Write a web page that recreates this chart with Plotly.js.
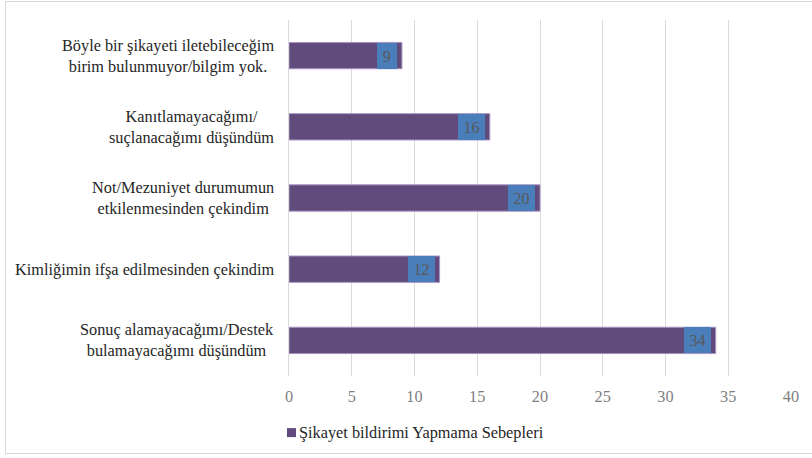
<!DOCTYPE html>
<html><head><meta charset="utf-8">
<script src="https://cdn.plot.ly/plotly-3.0.1.min.js"></script>
<style>
html,body{margin:0;padding:0;background:#fff;}
#wrap{position:relative;width:812px;height:458px;overflow:hidden;}
#frame{position:absolute;left:5px;top:1px;width:830px;height:453px;border:1px solid #d9d9d9;box-sizing:border-box;pointer-events:none;}
#chart{position:absolute;left:0;top:0;width:812px;height:458px;}
</style></head>
<body><div id="wrap"><div id="chart"></div><div id="frame"></div></div>
<script>
const categories = [
  "Böyle bir şikayeti iletebileceğim<br>birim bulunmuyor/bilgim yok.",
  "Kanıtlamayacağımı/<br>suçlanacağımı düşündüm",
  "Not/Mezuniyet durumumun<br>etkilenmesinden çekindim",
  "Kimliğimin ifşa edilmesinden çekindim",
  "Sonuç alamayacağımı/Destek<br>bulamayacağımı düşündüm"
];
const values = [9, 16, 20, 12, 34];
const seriesName = "Şikayet bildirimi Yapmama Sebepleri";
const xTicks = [0, 5, 10, 15, 20, 25, 30, 35, 40];

const FAM = "Times New Roman";
const annotations = [];
categories.forEach((c, i) => {
  annotations.push({
    x: 0, xref: 'paper', y: c, yref: 'y', xanchor: 'right', yanchor: 'middle',
    xshift: -13, text: c, showarrow: false, align: 'center',
    font: {family: FAM, size: 16.3, color: '#262626'}
  });
  const lbl = String(values[i]);
  annotations.push({
    x: values[i], xref: 'x', y: c, yref: 'y', xanchor: 'right', yanchor: 'middle',
    xshift: -5, text: lbl, showarrow: false, bgcolor: '#4a7ebb', borderwidth: 0,
    borderpad: 0, width: lbl.length * 7.6 + 12, height: 26,
    font: {family: FAM, size: 16, color: '#595959'}
  });
});
annotations.push({
  x: 0, xref: 'paper', y: -0.159, yref: 'paper', xanchor: 'left', yanchor: 'middle',
  xshift: 8, text: seriesName, showarrow: false,
  font: {family: FAM, size: 16.3, color: '#262626'}
});

const data = [{
  type: 'bar', orientation: 'h', x: values, y: categories, name: seriesName,
  marker: {color: '#604b7c', line: {color: '#a896c2', width: 1}},
  hoverinfo: 'x+y', showlegend: false
}];

const layout = {
  width: 812, height: 458,
  margin: {l: 289, r: 21, t: 20, b: 82},
  paper_bgcolor: '#fff', plot_bgcolor: '#fff',
  bargap: 0.63,
  font: {family: FAM, size: 16},
  xaxis: {range: [0, 40], tickvals: xTicks, ticktext: xTicks.map(String),
    showgrid: true, gridcolor: '#d9d9d9', gridwidth: 1, zeroline: false,
    showline: false, ticks: '', ticklen: 0, ticklabelstandoff: 9,
    tickfont: {family: FAM, size: 16.3, color: '#7f7f7f'}},
  yaxis: {type: 'category', autorange: 'reversed', showticklabels: false,
    showgrid: false, zeroline: false, showline: true, linecolor: '#d9d9d9', linewidth: 1, ticks: ''},
  shapes: [{
    type: 'rect', xref: 'paper', yref: 'paper', xsizemode: 'pixel', ysizemode: 'pixel',
    xanchor: 0, yanchor: -0.159, x0: -2, x1: 7, y0: -4.5, y1: 4.5,
    fillcolor: '#604b7c', line: {width: 0}
  }],
  annotations: annotations
};
Plotly.newPlot('chart', data, layout, {displayModeBar: false});
</script></body></html>
